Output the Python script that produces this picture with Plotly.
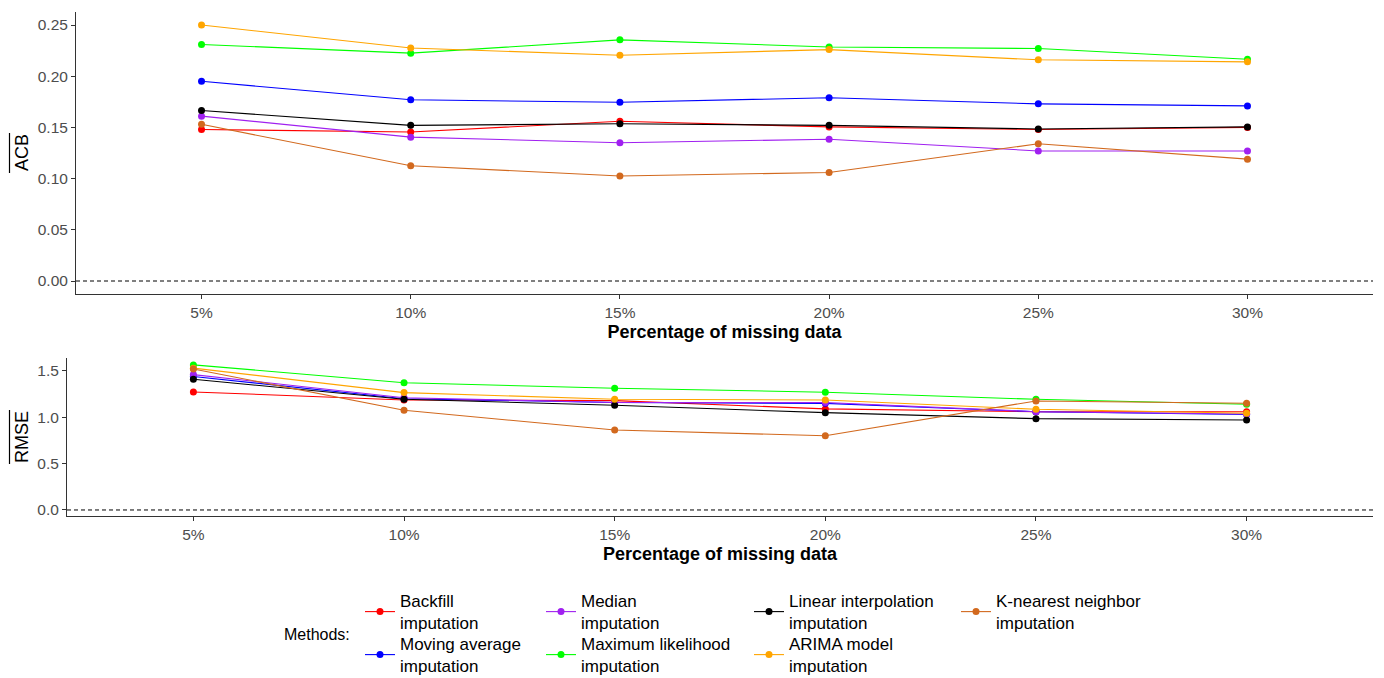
import plotly.graph_objects as go

# Percentage of missing data (x categories)
percent = ["5%", "10%", "15%", "20%", "25%", "30%"]

method_names = [
    "Backfill<br>imputation",
    "Moving average<br>imputation",
    "Median<br>imputation",
    "Maximum likelihood<br>imputation",
    "Linear interpolation<br>imputation",
    "ARIMA model<br>imputation",
    "K-nearest neighbor<br>imputation",
]
method_colors = ["#FF0000", "#0000FF", "#A020F0", "#00FF00", "#000000", "#FFA500", "#D2691E"]

# Mean absolute cumulative bias per method
acb_backfill = [0.148, 0.1455, 0.156, 0.1505, 0.148, 0.150]
acb_moving = [0.195, 0.177, 0.1745, 0.179, 0.173, 0.171]
acb_median = [0.161, 0.1405, 0.135, 0.1385, 0.127, 0.127]
acb_maxlik = [0.231, 0.2225, 0.2355, 0.2285, 0.227, 0.2165]
acb_linear = [0.1665, 0.152, 0.1535, 0.152, 0.1485, 0.1505]
acb_arima = [0.250, 0.2275, 0.2205, 0.226, 0.216, 0.214]
acb_knn = [0.153, 0.1125, 0.1025, 0.106, 0.134, 0.119]

# Mean RMSE per method
rmse_backfill = [1.273, 1.187, 1.18, 1.09, 1.06, 1.06]
rmse_moving = [1.44, 1.20, 1.16, 1.15, 1.06, 1.03]
rmse_median = [1.46, 1.21, 1.16, 1.16, 1.06, 1.035]
rmse_maxlik = [1.565, 1.373, 1.313, 1.27, 1.194, 1.14]
rmse_linear = [1.41, 1.194, 1.129, 1.05, 0.985, 0.971]
rmse_arima = [1.53, 1.266, 1.194, 1.187, 1.086, 1.043]
rmse_knn = [1.52, 1.075, 0.863, 0.80, 1.176, 1.151]

acb_series = [acb_backfill, acb_moving, acb_median, acb_maxlik, acb_linear, acb_arima, acb_knn]
rmse_series = [rmse_backfill, rmse_moving, rmse_median, rmse_maxlik, rmse_linear, rmse_arima, rmse_knn]

W, H = 1384, 678
FONT = "Liberation Sans, Arial, sans-serif"


def px_x(p):
    return p / W


def px_y(p):
    return 1 - p / H


# one legend box per method: 4 columns x 2 rows, filled column-wise
legend_ids = ["legend", "legend2", "legend3", "legend4", "legend5", "legend6", "legend7"]
legend_cols = [360, 360, 541, 541, 749, 749, 956]
legend_rows = [583, 626, 583, 626, 583, 626, 583]

fig = go.Figure()

for name, col, vals, lg in zip(method_names, method_colors, acb_series, legend_ids):
    fig.add_trace(go.Scatter(
        x=percent, y=vals, mode="lines+markers", name=name,
        line=dict(color=col, width=1.1), marker=dict(color=col, size=7),
        xaxis="x", yaxis="y", legend=lg, showlegend=True,
    ))

for name, col, vals in zip(method_names, method_colors, rmse_series):
    fig.add_trace(go.Scatter(
        x=percent, y=vals, mode="lines+markers", name=name,
        line=dict(color=col, width=1.1), marker=dict(color=col, size=7),
        xaxis="x2", yaxis="y2", showlegend=False,
    ))

tick_font = dict(family=FONT, size=15.5, color="#4D4D4D")
title_font = dict(family=FONT, size=18, color="#000000")

common_x = dict(
    type="category", categoryorder="array", categoryarray=percent,
    range=[-0.6, 5.6], showline=True, linecolor="#333333", linewidth=1,
    ticks="outside", ticklen=4, tickcolor="#333333", tickfont=tick_font,
    showgrid=False, zeroline=False,
    title=dict(text="<b>Percentage of missing data</b>", font=title_font, standoff=5),
)
common_y = dict(
    showline=True, linecolor="#333333", linewidth=1, ticks="outside", ticklen=4,
    tickcolor="#333333", tickfont=tick_font, showgrid=False, zeroline=False,
)

legend_layout = {}
for lg, lx, ly in zip(legend_ids, legend_cols, legend_rows):
    legend_layout[lg] = dict(
        orientation="v", xanchor="left", yanchor="top", x=px_x(lx), y=px_y(ly),
        font=dict(family=FONT, size=17, color="#000000"), bgcolor="rgba(0,0,0,0)",
        tracegroupgap=0, itemclick=False, itemdoubleclick=False,
    )

fig.update_layout(
    width=W, height=H, margin=dict(l=0, r=0, t=0, b=0, autoexpand=False),
    paper_bgcolor="white", plot_bgcolor="white",
    font=dict(family=FONT),
    xaxis=dict(domain=[px_x(76), px_x(1373)], anchor="y", **common_x),
    yaxis=dict(domain=[px_y(294), px_y(12)], anchor="x", range=[-0.0127, 0.2627],
               tickvals=[0, 0.05, 0.10, 0.15, 0.20, 0.25],
               ticktext=["0.00", "0.05", "0.10", "0.15", "0.20", "0.25"], **common_y),
    xaxis2=dict(domain=[px_x(67), px_x(1373)], anchor="y2", **common_x),
    yaxis2=dict(domain=[px_y(516), px_y(358.3)], anchor="x2", range=[-0.065, 1.636],
                tickvals=[0, 0.5, 1.0, 1.5], ticktext=["0.0", "0.5", "1.0", "1.5"], **common_y),
    showlegend=True,
    **legend_layout,
)

# dashed reference line at zero in both panels
for xr, yr in [("x domain", "y"), ("x2 domain", "y2")]:
    fig.add_shape(type="line", xref=xr, yref=yr, x0=0, x1=1, y0=0, y1=0,
                  line=dict(color="#000000", width=1, dash="4px,3px"))

# rotated y-axis titles with an overline bar
for label, cy, y0, y1 in [("ACB", 153, 133, 173), ("RMSE", 437, 410, 464)]:
    fig.add_annotation(text=label, x=px_x(22), y=px_y(cy), xref="paper", yref="paper",
                       textangle=-90, showarrow=False, font=title_font,
                       xanchor="center", yanchor="middle")
    fig.add_shape(type="line", xref="paper", yref="paper",
                  x0=px_x(9.5), x1=px_x(9.5), y0=px_y(y1), y1=px_y(y0),
                  line=dict(color="#000000", width=1.2))

fig.add_annotation(text="Methods:", x=px_x(282), y=px_y(634), xref="paper", yref="paper",
                   xanchor="left", yanchor="middle", showarrow=False,
                   font=dict(family=FONT, size=16, color="#000000"))

fig.write_html("out.html")
